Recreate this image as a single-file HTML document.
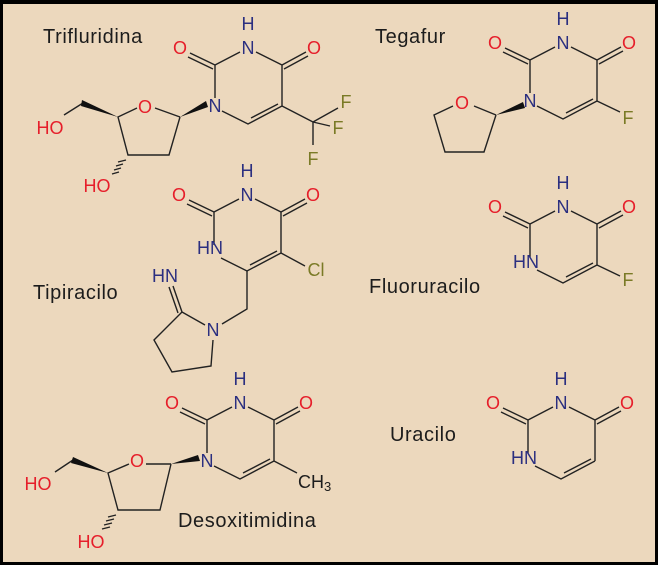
<!DOCTYPE html>
<html><head><meta charset="utf-8"><style>
html,body{margin:0;padding:0;background:#000}
svg{display:block}
.b{stroke:#222;stroke-width:1.4;fill:none}
text{font-family:"Liberation Sans",sans-serif;font-size:18px}
.N{fill:#2b2f80;text-anchor:middle}
.O{fill:#e61e2a;text-anchor:middle}
.F{fill:#7a7a26;text-anchor:middle}
.L{fill:#1c1c1c;font-size:20px;letter-spacing:0.6px}
</style></head><body>
<svg width="658" height="565" viewBox="0 0 658 565">
<rect x="0" y="0" width="658" height="565" fill="#000"/>
<rect x="3" y="4" width="652" height="558" fill="#ecd8bd"/>
<defs>
<g id="ring">
<path class="b" d="M-8,4 L-33,17 M-33,17 L-58,5 M-35,21 L-60,9 M8,4 L34,17 M34,17 L58,4 M36,21 L60,8 M-33,17 L-33,50 M34,17 L34,58 M-26,63 L0,76 L34,58 M3,70 L30,56"/>
</g>
</defs>

<text class="L" x="43" y="43">Trifluridina</text>
<text class="L" x="375" y="43">Tegafur</text>
<text class="L" x="33" y="299">Tipiracilo</text>
<text class="L" x="369" y="293">Fluoruracilo</text>
<text class="L" x="390" y="441">Uracilo</text>
<text class="L" x="178" y="527">Desoxitimidina</text>

<!-- Trifluridina -->
<g transform="translate(248,48)">
<use href="#ring"/>
<text class="N" x="0" y="6">N</text><text class="N" x="0" y="-18">H</text>
<text class="O" x="-68" y="6">O</text><text class="O" x="66" y="6">O</text>
<text class="N" x="-33" y="64">N</text>
</g>
<path class="b" d="M282,106 L313,122 M313,122 L338,108 M313,122 L330,126 M313,122 L313,145"/>
<text class="F" x="346" y="108">F</text><text class="F" x="338" y="134">F</text><text class="F" x="313" y="165">F</text>
<path class="b" d="M180,117 L155,108 M137,108 L118,117 L128,155 L169,155 L180,117 M83,103 L64,115"/>
<polygon points="180,117 206,101 208,107" fill="#111"/>
<polygon points="118,117 82,100 81,106" fill="#111"/>
<path class="b" d="M126,160 L118,162 M123,164 L116,166 M121,168 L114,170 M119,172 L112,174"/>
<text class="O" x="50" y="134">HO</text>
<text class="O" x="97" y="192">HO</text>
<text class="O" x="145" y="113">O</text>

<!-- Tegafur -->
<g transform="translate(563,43)">
<use href="#ring"/>
<text class="N" x="0" y="6">N</text><text class="N" x="0" y="-18">H</text>
<text class="O" x="-68" y="6">O</text><text class="O" x="66" y="6">O</text>
<text class="N" x="-33" y="64">N</text>
</g>
<path class="b" d="M597,101 L620,112 M496,115 L474,106 M453,106 L434,115 L445,152 L484,152 L496,115"/>
<polygon points="496,115 523,102 525,108" fill="#111"/>
<text class="F" x="628" y="124">F</text>
<text class="O" x="462" y="109">O</text>

<!-- Tipiracilo -->
<g transform="translate(247,195)">
<use href="#ring"/>
<text class="N" x="0" y="6">N</text><text class="N" x="0" y="-18">H</text>
<text class="O" x="-68" y="6">O</text><text class="O" x="66" y="6">O</text>
<text class="N" x="-37" y="59" style="text-anchor:middle">HN</text>
</g>
<path class="b" d="M281,253 L305,266 M247,271 L247,309 L222,324 M205,325 L182,312 L154,340 L172,372 L211,366 L213,340 M182,312 L173,286 M178,313 L169,287"/>
<text class="F" x="316" y="276">Cl</text>
<text class="N" x="213" y="336">N</text>
<text class="N" x="165" y="282">HN</text>

<!-- Fluoruracilo -->
<g transform="translate(563,207)">
<use href="#ring"/>
<text class="N" x="0" y="6">N</text><text class="N" x="0" y="-18">H</text>
<text class="O" x="-68" y="6">O</text><text class="O" x="66" y="6">O</text>
<text class="N" x="-37" y="61">HN</text>
</g>
<path class="b" d="M597,265 L620,276"/>
<text class="F" x="628" y="286">F</text>

<!-- Uracilo -->
<g transform="translate(561,403)">
<use href="#ring"/>
<text class="N" x="0" y="6">N</text><text class="N" x="0" y="-18">H</text>
<text class="O" x="-68" y="6">O</text><text class="O" x="66" y="6">O</text>
<text class="N" x="-37" y="61">HN</text>
</g>

<!-- Desoxitimidina -->
<g transform="translate(240,403)">
<use href="#ring"/>
<text class="N" x="0" y="6">N</text><text class="N" x="0" y="-18">H</text>
<text class="O" x="-68" y="6">O</text><text class="O" x="66" y="6">O</text>
<text class="N" x="-33" y="64">N</text>
</g>
<path class="b" d="M274,461 L297,473"/>
<text x="298" y="488" style="fill:#1c1c1c">CH<tspan font-size="13" dy="3">3</tspan></text>
<path class="b" d="M171,464 L146,464 M129,464 L108,473 L118,510 L160,510 L171,464 M73,460 L55,472"/>
<polygon points="171,464 198,455 200,461" fill="#111"/>
<polygon points="108,473 73,457 71,463" fill="#111"/>
<path class="b" d="M116,515 L108,517 M114,519 L106,521 M112,523 L104,525 M110,527 L102,529"/>
<text class="O" x="38" y="490">HO</text>
<text class="O" x="91" y="548">HO</text>
<text class="O" x="137" y="467">O</text>
</svg>
</body></html>
